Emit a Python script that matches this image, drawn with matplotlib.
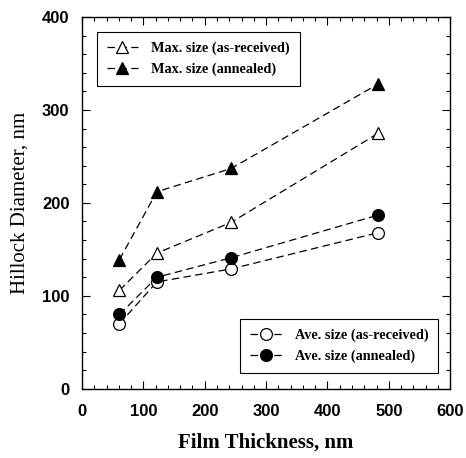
import matplotlib
matplotlib.use("Agg")
import matplotlib.pyplot as plt
from matplotlib.ticker import MultipleLocator

thickness = [61, 122, 243, 483]
max_asrec = [106, 146, 179, 275]
max_anneal = [139, 212, 237, 328]
ave_asrec = [70, 115, 129, 168]
ave_anneal = [80, 120, 141, 187]

fig = plt.figure(figsize=(4.66, 4.58), dpi=100)
ax = fig.add_axes([0.176, 0.151, 0.790, 0.812])

dash = (0, (6, 3.5))
kw = dict(color='black', linestyle=dash, linewidth=0.9, markersize=8.5,
          markeredgewidth=0.9)
l1, = ax.plot(thickness, max_asrec, marker='^', markerfacecolor='white',
              label='Max. size (as-received)', **kw)
l2, = ax.plot(thickness, max_anneal, marker='^', markerfacecolor='black',
              label='Max. size (annealed)', **kw)
l3, = ax.plot(thickness, ave_asrec, marker='o', markerfacecolor='white',
              label='Ave. size (as-received)', **kw)
l4, = ax.plot(thickness, ave_anneal, marker='o', markerfacecolor='black',
              label='Ave. size (annealed)', **kw)

ax.set_xlim(0, 600)
ax.set_ylim(0, 400)
ax.xaxis.set_major_locator(MultipleLocator(100))
ax.xaxis.set_minor_locator(MultipleLocator(20))
ax.yaxis.set_major_locator(MultipleLocator(100))
ax.yaxis.set_minor_locator(MultipleLocator(20))
ax.tick_params(which='both', direction='in', top=True, right=True, width=0.8)
ax.tick_params(which='major', length=6)
ax.tick_params(axis='x', which='major', pad=11)
ax.tick_params(axis='y', which='major', pad=9)
ax.tick_params(which='minor', length=3)
for lab in ax.get_xticklabels() + ax.get_yticklabels():
    lab.set_fontfamily('Liberation Sans')
    lab.set_fontweight('bold')
    lab.set_fontsize(12)
for s in ax.spines.values():
    s.set_linewidth(1.0)

ax.set_xlabel('Film Thickness, nm', fontfamily='Liberation Serif',
              fontweight='bold', fontsize=15, labelpad=10)
ax.set_ylabel('Hillock Diameter, nm', fontfamily='Liberation Serif',
              fontsize=15, labelpad=9)

legprops = dict(family='Liberation Serif', weight='bold', size=10.3)
leg1 = ax.legend(handles=[l1, l2], loc='upper left',
                 bbox_to_anchor=(0.04, 0.96), borderaxespad=0,
                 prop=legprops, fancybox=False, edgecolor='black',
                 framealpha=1, handlelength=2.2, borderpad=0.7,
                 labelspacing=0.5, handletextpad=0.9)
leg1.get_frame().set_linewidth(0.8)
ax.add_artist(leg1)
leg2 = ax.legend(handles=[l3, l4], loc='lower right',
                 bbox_to_anchor=(0.968, 0.043), borderaxespad=0,
                 prop=legprops, fancybox=False, edgecolor='black',
                 framealpha=1, handlelength=2.2, borderpad=0.7,
                 labelspacing=0.5, handletextpad=0.9)
leg2.get_frame().set_linewidth(0.8)

fig.savefig('out.png', dpi=100)
